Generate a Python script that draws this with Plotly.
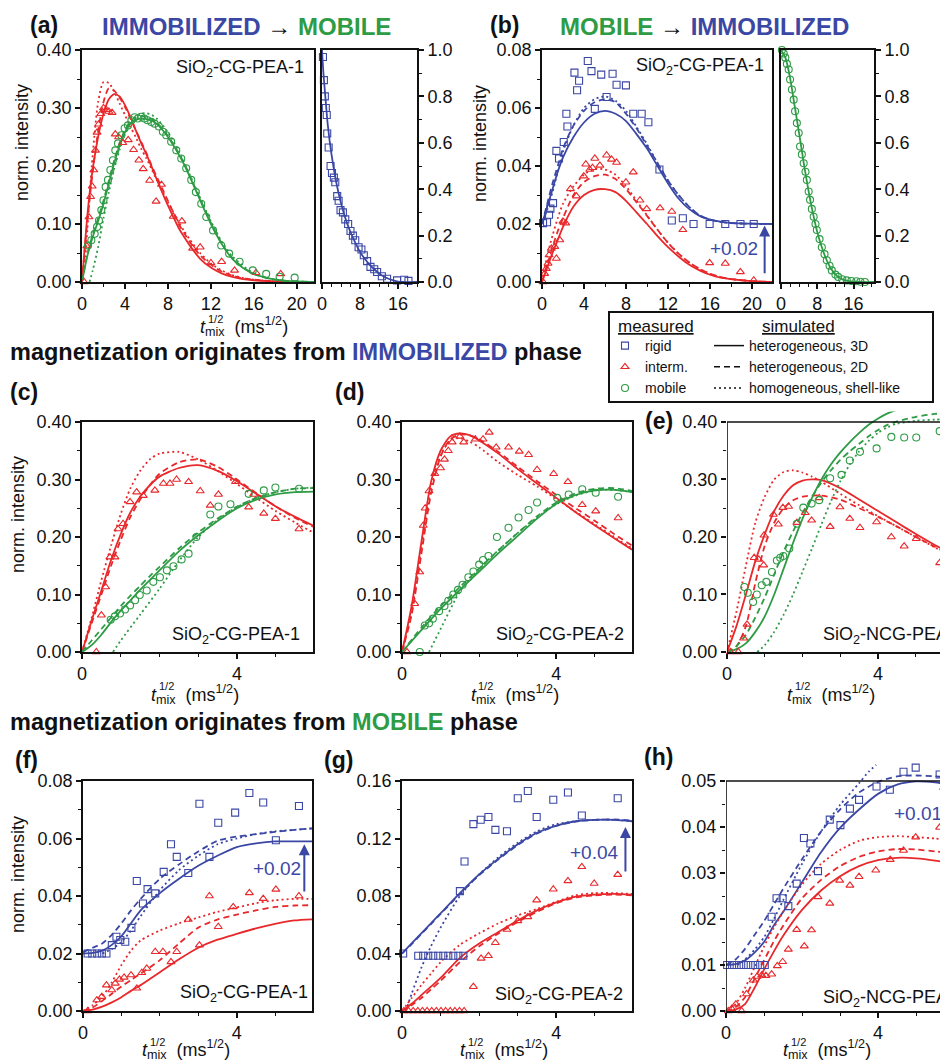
import plotly.graph_objects as go

W, H = 948, 1062
OX, OY = 8, 8  # the page body adds an 8 px margin; positions below are in screen pixels
FONT = "Liberation Sans, Arial, Helvetica, sans-serif"
BLUE = "#3b47a5"
RED = "#e8282b"
GREEN = "#2e9b45"
BLACK = "#111111"

# ---------------- panel (a) : IMMOBILIZED -> MOBILE ----------------
a_int_x = [0.2, 0.45, 0.65, 0.8, 0.95, 1.1, 1.25, 1.4, 1.55, 1.75, 2.0, 2.25, 2.5, 2.8, 3.1, 3.4, 3.8,
           4.3, 4.8, 5.3, 5.7, 6.3, 6.9, 7.4, 8.5, 9.3, 10.3, 11.0, 12.0, 13.0, 14.2, 16.2, 18.5]
a_int_y = [0.0, 0.062, 0.112, 0.147, 0.165, 0.193, 0.227, 0.258, 0.272, 0.29, 0.3, 0.297, 0.294, 0.292,
           0.255, 0.25, 0.24, 0.245, 0.228, 0.21, 0.195, 0.175, 0.139, 0.168, 0.113, 0.105, 0.058, 0.06,
           0.033, 0.035, 0.02, 0.016, 0.014]
a_mob_x = [0.56, 0.87, 1.18, 1.4, 1.58, 1.8, 2.0, 2.2, 2.42, 2.64, 2.88, 3.1, 3.35, 3.66, 3.97, 4.28, 4.6,
           4.9, 5.2, 5.5, 5.8, 6.1, 6.45, 6.76, 7.16, 7.53, 7.84, 8.3, 8.78, 9.24, 9.7, 10.17, 10.6, 11.1,
           11.57, 12.2, 12.96, 13.7, 14.67, 15.9, 17.15, 18.4, 19.8]
a_mob_y = [0.063, 0.072, 0.083, 0.095, 0.106, 0.124, 0.141, 0.164, 0.176, 0.193, 0.21, 0.227, 0.239, 0.253,
           0.265, 0.27, 0.279, 0.284, 0.282, 0.285, 0.282, 0.279, 0.276, 0.273, 0.268, 0.259, 0.253, 0.242,
           0.227, 0.213, 0.196, 0.176, 0.155, 0.135, 0.112, 0.089, 0.063, 0.049, 0.035, 0.02, 0.014, 0.009,
           0.0075]
a_red_x = [0, 0.25, 0.5, 0.75, 1, 1.5, 2, 2.5, 3, 3.5, 4, 4.5, 5, 5.5, 6, 6.5, 7, 7.5, 8, 8.5, 9, 9.5, 10,
           11, 12, 13, 14, 15, 16, 18, 21.6]
a_red_solid = [0, 0.06, 0.115, 0.16, 0.195, 0.25, 0.29, 0.315, 0.324, 0.32, 0.305, 0.285, 0.262, 0.24, 0.22,
               0.198, 0.175, 0.153, 0.132, 0.112, 0.093, 0.078, 0.064, 0.04, 0.025, 0.015, 0.009, 0.005,
               0.003, 0.001, 0]
a_red_dash = [0, 0.055, 0.105, 0.15, 0.19, 0.26, 0.31, 0.334, 0.33, 0.318, 0.302, 0.282, 0.262, 0.242, 0.222,
              0.2, 0.18, 0.16, 0.14, 0.12, 0.1, 0.085, 0.07, 0.046, 0.03, 0.018, 0.011, 0.006, 0.004, 0.001, 0]
a_red_dot = [0, 0.03, 0.09, 0.16, 0.22, 0.31, 0.345, 0.343, 0.328, 0.308, 0.288, 0.268, 0.25, 0.23, 0.213,
             0.194, 0.175, 0.156, 0.138, 0.12, 0.103, 0.088, 0.074, 0.05, 0.032, 0.02, 0.012, 0.007, 0.004,
             0.001, 0]
a_grn_x = [0, 0.5, 1, 1.5, 2, 2.5, 3, 3.5, 4, 4.5, 5, 5.5, 6, 6.5, 7, 7.5, 8, 8.5, 9, 9.5, 10, 10.5, 11,
           11.5, 12, 13, 14, 15, 16, 17, 18, 19, 20, 21.6]
a_grn_solid = [0, 0.045, 0.078, 0.105, 0.135, 0.17, 0.205, 0.235, 0.258, 0.273, 0.28, 0.282, 0.281, 0.278,
               0.272, 0.262, 0.25, 0.236, 0.22, 0.203, 0.183, 0.162, 0.141, 0.12, 0.1, 0.066, 0.04, 0.024,
               0.014, 0.008, 0.004, 0.002, 0.001, 0.0]
a_grn_dash = [0, 0.048, 0.082, 0.11, 0.14, 0.175, 0.21, 0.24, 0.262, 0.277, 0.284, 0.286, 0.285, 0.281,
              0.274, 0.264, 0.252, 0.238, 0.222, 0.205, 0.185, 0.164, 0.143, 0.122, 0.102, 0.067, 0.041,
              0.025, 0.014, 0.008, 0.004, 0.002, 0.001, 0.0]
a_gdot_x = [0.7, 1, 1.5, 2, 2.5, 3, 3.5, 4, 4.5, 5, 5.5, 6, 6.5, 7, 8, 9, 10, 11, 12, 13, 14, 16, 18, 21.6]
a_gdot_y = [0, 0.02, 0.06, 0.11, 0.155, 0.195, 0.228, 0.255, 0.272, 0.283, 0.29, 0.291, 0.288, 0.281, 0.258,
            0.226, 0.186, 0.145, 0.105, 0.07, 0.044, 0.015, 0.004, 0.0]
# inset (a): rigid decay
ai_x = [0.2, 0.4, 0.6, 0.8, 1.0, 1.1, 1.4, 1.8, 2.1, 2.5, 2.8, 3.2, 3.5, 3.9, 4.4, 4.9, 5.5, 6.0, 6.5, 7.0,
        7.7, 8.3, 8.8, 9.5, 10.2, 11.0, 11.6, 12.6, 13.7, 15.8, 17.3, 18.2]
ai_y = [0.97, 0.87, 0.8, 0.75, 0.72, 0.64, 0.58, 0.5, 0.47, 0.45, 0.43, 0.37, 0.35, 0.31, 0.3, 0.27, 0.25,
        0.22, 0.2, 0.18, 0.15, 0.14, 0.115, 0.09, 0.065, 0.055, 0.043, 0.025, 0.014, 0.007, 0.01, 0.005]
ai_curve_x = [0, 0.3, 0.7, 1.2, 2, 3, 4, 5, 6, 7, 8, 9, 10, 11, 12, 13, 14, 15, 16, 17, 20]
ai_curve_y = [1.0, 0.9, 0.8, 0.68, 0.55, 0.43, 0.34, 0.27, 0.215, 0.17, 0.13, 0.1, 0.075, 0.055, 0.037,
              0.024, 0.014, 0.007, 0.002, 0, 0]

# ---------------- panel (b) : MOBILE -> IMMOBILIZED ----------------
b_rig_x = [0.1, 0.48, 0.67, 0.8, 1.05, 1.37, 1.62, 2.07, 2.32, 2.42, 3.09, 3.34, 3.53, 4.36, 4.71, 5.03,
           5.64, 6.15, 6.72, 7.1, 7.99, 8.69, 9.49, 10.13, 11.18, 12.36, 13.41, 14.43, 15.96, 17.45, 18.9,
           20.16]
b_rig_y = [0.0203, 0.0206, 0.0232, 0.0253, 0.0272, 0.0452, 0.0426, 0.0483, 0.058, 0.0536, 0.0722, 0.0661,
           0.0694, 0.0762, 0.0727, 0.0597, 0.0715, 0.0638, 0.0718, 0.068, 0.0678, 0.058, 0.058, 0.0551,
           0.0388, 0.0212, 0.022, 0.02, 0.02, 0.02, 0.02, 0.02]
b_int_x = [0.1, 0.25, 0.41, 0.57, 0.67, 0.89, 1.21, 1.37, 1.69, 2.0, 2.26, 2.71, 3.28, 3.98, 4.17, 4.55,
           4.81, 5.03, 5.51, 6.15, 6.62, 7.1, 7.99, 8.69, 9.33, 9.97, 11.24, 12.36, 13.41, 15.96, 17.45,
           18.89, 20.16]
b_int_y = [0.0, 0.0029, 0.0046, 0.0064, 0.0093, 0.0116, 0.0122, 0.0081, 0.0145, 0.0209, 0.0203, 0.0321,
           0.0296, 0.0365, 0.0406, 0.0388, 0.0394, 0.0426, 0.0402, 0.0437, 0.0423, 0.0412, 0.0344, 0.0379,
           0.0282, 0.0252, 0.0255, 0.0243, 0.018, 0.0066, 0.0064, 0.0035, 0.0006]
b_x = [0, 0.5, 1, 1.5, 2, 3, 4, 5, 6, 7, 8, 9, 10, 11, 12, 13, 14, 15, 16, 17, 18, 20, 21.9]
b_blue_solid = [0.02, 0.026, 0.032, 0.038, 0.043, 0.05, 0.055, 0.058, 0.059, 0.058, 0.0555, 0.051, 0.046,
                0.04, 0.034, 0.0288, 0.0252, 0.0228, 0.0215, 0.0208, 0.0204, 0.0201, 0.02]
b_blue_dash = [0.02, 0.027, 0.034, 0.04, 0.046, 0.054, 0.059, 0.062, 0.063, 0.062, 0.058, 0.053, 0.047,
               0.041, 0.035, 0.03, 0.026, 0.023, 0.0215, 0.0207, 0.0203, 0.0201, 0.02]
b_blue_dot = [0.02, 0.025, 0.031, 0.038, 0.045, 0.054, 0.06, 0.063, 0.064, 0.0625, 0.059, 0.0535, 0.0475,
              0.041, 0.035, 0.03, 0.026, 0.023, 0.0215, 0.0207, 0.0203, 0.0201, 0.02]
b_red_solid = [0, 0.005, 0.01, 0.0145, 0.019, 0.026, 0.03, 0.0318, 0.032, 0.031, 0.028, 0.024, 0.02, 0.0158,
               0.012, 0.0088, 0.006, 0.004, 0.0025, 0.0015, 0.001, 0.0003, 0]
b_red_dash = [0, 0.006, 0.012, 0.0175, 0.022, 0.03, 0.0345, 0.0365, 0.037, 0.0355, 0.032, 0.0275, 0.0228,
              0.018, 0.0135, 0.0098, 0.0068, 0.0045, 0.0028, 0.0017, 0.001, 0.0003, 0]
b_red_dot = [0, 0.009, 0.016, 0.022, 0.027, 0.033, 0.037, 0.039, 0.0388, 0.037, 0.033, 0.028, 0.023, 0.018,
             0.0135, 0.0098, 0.0068, 0.0045, 0.0028, 0.0017, 0.001, 0.0003, 0]
# inset (b): mobile decay
bi_x = [0.2, 0.6, 0.95, 1.3, 1.7, 2.0, 2.4, 2.8, 3.1, 3.5, 3.9, 4.2, 4.6, 5.0, 5.4, 5.7, 6.1, 6.4, 6.8, 7.2,
        7.6, 7.9, 8.5, 9.0, 9.6, 10.1, 10.7, 11.2, 12.0, 12.6, 13.5, 14.5, 15.5, 16.6, 17.5, 18.5]
bi_y = [1.0, 0.985, 0.967, 0.94, 0.916, 0.873, 0.83, 0.786, 0.736, 0.685, 0.642, 0.584, 0.55, 0.512, 0.475,
        0.44, 0.39, 0.354, 0.315, 0.281, 0.25, 0.224, 0.185, 0.15, 0.12, 0.094, 0.07, 0.05, 0.032, 0.022,
        0.012, 0.007, 0.004, 0.003, 0.001, 0.0]
bi_curve_x = [0, 1, 2, 3, 4, 5, 6, 7, 8, 9, 10, 11, 12, 13, 14, 15, 16, 17, 18, 20.5]
bi_curve_y = [1.0, 0.965, 0.88, 0.76, 0.64, 0.515, 0.4, 0.3, 0.215, 0.15, 0.097, 0.058, 0.032, 0.017, 0.008,
              0.004, 0.002, 0.001, 0, 0]

# ---------------- panel (c) ----------------
c_x = [0, 0.25, 0.5, 0.75, 1, 1.25, 1.5, 1.75, 2, 2.5, 3, 3.5, 4, 4.5, 5, 5.5, 5.96]
c_red_solid = [0, 0.055, 0.107, 0.16, 0.205, 0.243, 0.27, 0.29, 0.305, 0.32, 0.325, 0.315, 0.297, 0.275,
               0.253, 0.235, 0.22]
c_red_dash = [0, 0.05, 0.1, 0.15, 0.195, 0.235, 0.265, 0.29, 0.31, 0.33, 0.335, 0.322, 0.3, 0.276, 0.253,
              0.233, 0.218]
c_red_dot = [0, 0.06, 0.125, 0.185, 0.24, 0.285, 0.315, 0.335, 0.345, 0.348, 0.335, 0.315, 0.292, 0.268,
             0.245, 0.225, 0.208]
c_grn_solid = [0, 0.012, 0.03, 0.052, 0.072, 0.09, 0.108, 0.125, 0.142, 0.175, 0.203, 0.228, 0.25, 0.265,
               0.274, 0.278, 0.279]
c_grn_dash = [0, 0.02, 0.04, 0.06, 0.08, 0.098, 0.115, 0.132, 0.148, 0.18, 0.208, 0.232, 0.253, 0.268, 0.278,
              0.284, 0.285]
c_gdot_x = [0.8, 1, 1.5, 2, 2.5, 3, 3.5, 4, 4.5, 5, 5.5, 5.96]
c_gdot_y = [0, 0.02, 0.065, 0.11, 0.158, 0.2, 0.23, 0.252, 0.268, 0.278, 0.284, 0.286]
c_int_x = [0.37, 0.5, 0.61, 0.72, 0.85, 0.93, 1.06, 1.24, 1.41, 1.58, 1.88, 2.1, 2.27, 2.44, 2.75, 3.05,
           3.31, 3.52, 3.96, 4.3, 4.43, 4.69, 4.99, 5.6]
c_int_y = [0.0, 0.064, 0.113, 0.165, 0.165, 0.214, 0.223, 0.261, 0.278, 0.272, 0.281, 0.293, 0.293, 0.3,
           0.296, 0.28, 0.255, 0.274, 0.296, 0.252, 0.274, 0.241, 0.232, 0.214]
c_mob_x = [0.74, 0.85, 0.98, 1.11, 1.24, 1.37, 1.49, 1.67, 1.84, 2.01, 2.19, 2.36, 2.57, 2.75, 2.95, 3.31,
           3.52, 3.83, 4.3, 4.69, 4.99, 5.6]
c_mob_y = [0.056, 0.062, 0.067, 0.074, 0.081, 0.09, 0.099, 0.107, 0.122, 0.13, 0.142, 0.149, 0.161, 0.171,
           0.2, 0.239, 0.253, 0.257, 0.275, 0.281, 0.286, 0.284]

# ---------------- panel (d) ----------------
d_x = [0, 0.25, 0.5, 0.75, 1, 1.25, 1.5, 1.75, 2, 2.5, 3, 3.5, 4, 4.5, 5, 5.5, 5.96]
d_red_solid = [0, 0.08, 0.19, 0.295, 0.35, 0.375, 0.38, 0.377, 0.368, 0.345, 0.318, 0.293, 0.268, 0.243,
               0.22, 0.198, 0.178]
d_red_dash = [0, 0.065, 0.17, 0.275, 0.34, 0.37, 0.378, 0.377, 0.37, 0.348, 0.322, 0.297, 0.273, 0.25, 0.228,
              0.205, 0.185]
d_red_dot = [0, 0.07, 0.18, 0.285, 0.342, 0.368, 0.372, 0.366, 0.356, 0.33, 0.308, 0.288, 0.266, 0.244,
             0.222, 0.2, 0.18]
d_gx = [0, 0.5, 1, 1.5, 2, 2.5, 3, 3.5, 4, 4.5, 5, 5.5, 5.96]
d_grn_solid = [0, 0.038, 0.075, 0.108, 0.14, 0.172, 0.202, 0.232, 0.258, 0.273, 0.281, 0.282, 0.278]
d_grn_dash = [0, 0.042, 0.08, 0.113, 0.145, 0.177, 0.207, 0.236, 0.26, 0.276, 0.284, 0.285, 0.28]
d_gdot_x = [0.7, 1, 1.5, 2, 2.5, 3, 3.5, 4, 4.5, 5, 5.5, 5.96]
d_gdot_y = [0, 0.04, 0.105, 0.145, 0.177, 0.207, 0.234, 0.257, 0.272, 0.281, 0.282, 0.278]
d_int_x = [0.13, 0.33, 0.46, 0.55, 0.6, 0.7, 0.85, 1.0, 1.1, 1.2, 1.3, 1.5, 1.6, 1.9, 2.1, 2.26, 2.44, 2.76,
           3.04, 3.28, 3.5, 3.93, 4.3, 4.67, 5.02, 5.6]
d_int_y = [0.0, 0.084, 0.139, 0.22, 0.25, 0.28, 0.31, 0.32, 0.335, 0.35, 0.365, 0.375, 0.365, 0.37, 0.37,
           0.382, 0.356, 0.356, 0.349, 0.343, 0.317, 0.31, 0.296, 0.256, 0.245, 0.233]
d_mob_x = [0.46, 0.59, 0.7, 0.8, 0.96, 1.1, 1.2, 1.33, 1.45, 1.57, 1.72, 1.85, 2.0, 2.1, 2.24, 2.46, 2.76,
           3.02, 3.28, 3.5, 4.02, 4.32, 4.67, 5.02, 5.6]
d_mob_y = [0.0, 0.046, 0.05, 0.058, 0.071, 0.08, 0.089, 0.1, 0.108, 0.117, 0.13, 0.14, 0.152, 0.16, 0.167,
           0.2, 0.216, 0.234, 0.247, 0.26, 0.268, 0.274, 0.283, 0.277, 0.27]

# ---------------- panel (e) ----------------
e_x = [0, 0.25, 0.5, 0.75, 1, 1.25, 1.5, 1.75, 2, 2.25, 2.5, 3, 3.5, 4, 4.5, 5, 5.5, 5.85]
e_red_solid = [0, 0.045, 0.1, 0.158, 0.205, 0.245, 0.272, 0.29, 0.298, 0.3, 0.299, 0.285, 0.265, 0.245,
               0.225, 0.205, 0.186, 0.174]
e_red_dash = [0, 0.01, 0.045, 0.12, 0.185, 0.225, 0.25, 0.264, 0.27, 0.272, 0.272, 0.265, 0.25, 0.235,
              0.218, 0.2, 0.183, 0.171]
e_red_dot = [0, 0.07, 0.15, 0.225, 0.27, 0.3, 0.313, 0.316, 0.312, 0.305, 0.296, 0.275, 0.255, 0.236, 0.218,
             0.2, 0.182, 0.17]
e_gx = [0, 0.25, 0.5, 0.75, 1, 1.25, 1.5, 1.75, 2, 2.25, 2.5, 2.75, 3, 3.25, 3.5, 3.75, 4, 4.25, 4.5, 5,
        5.5, 5.85]
e_grn_solid = [0, 0.005, 0.015, 0.035, 0.062, 0.1, 0.145, 0.19, 0.232, 0.268, 0.3, 0.326, 0.347, 0.365,
               0.381, 0.395, 0.406, 0.415, 0.421, 0.428, 0.431, 0.432]
e_grn_dash = [0, 0.01, 0.03, 0.06, 0.095, 0.135, 0.175, 0.21, 0.242, 0.27, 0.295, 0.316, 0.334, 0.349, 0.362,
              0.375, 0.386, 0.395, 0.401, 0.409, 0.414, 0.415]
e_gdot_x = [0.8, 1, 1.25, 1.5, 1.75, 2, 2.25, 2.5, 2.75, 3, 3.25, 3.5, 3.75, 4, 4.25, 4.5, 5, 5.5, 5.85]
e_gdot_y = [0, 0.012, 0.035, 0.065, 0.1, 0.14, 0.18, 0.222, 0.262, 0.297, 0.326, 0.349, 0.367, 0.381, 0.391,
            0.397, 0.402, 0.404, 0.405]
e_int_x = [0.09, 0.3, 0.44, 0.53, 0.72, 0.84, 0.97, 0.98, 1.23, 1.36, 1.48, 1.63, 1.85, 2.07, 2.24, 2.44,
           2.73, 2.99, 3.25, 3.52, 3.96, 4.35, 4.69, 5.01, 5.63]
e_int_y = [0.0, 0.0, 0.024, 0.048, 0.164, 0.161, 0.151, 0.203, 0.239, 0.222, 0.251, 0.253, 0.225, 0.242,
           0.229, 0.268, 0.218, 0.252, 0.232, 0.216, 0.226, 0.2, 0.184, 0.197, 0.155]
e_mob_x = [0.46, 0.55, 0.69, 0.79, 0.92, 1.04, 1.19, 1.32, 1.41, 1.49, 1.65, 1.85, 2.02, 2.24, 2.44, 2.73,
           3.03, 3.25, 3.52, 3.96, 4.35, 4.69, 5.01, 5.63]
e_mob_y = [0.113, 0.103, 0.087, 0.1, 0.116, 0.122, 0.139, 0.159, 0.164, 0.167, 0.18, 0.223, 0.251, 0.258,
           0.264, 0.302, 0.308, 0.333, 0.348, 0.354, 0.374, 0.373, 0.373, 0.384]

# ---------------- panel (f) ----------------
f_x = [0, 0.25, 0.5, 0.75, 1, 1.25, 1.5, 2, 2.5, 3, 3.5, 4, 4.5, 5, 5.5, 5.96]
f_blue_solid = [0.02, 0.0202, 0.021, 0.023, 0.026, 0.0305, 0.035, 0.041, 0.046, 0.0505, 0.054, 0.057,
                0.0583, 0.059, 0.059, 0.059]
f_blue_dash = [0.0205, 0.022, 0.0235, 0.0265, 0.0305, 0.035, 0.039, 0.046, 0.051, 0.0555, 0.0592, 0.0607,
               0.0615, 0.0623, 0.063, 0.0635]
f_bdot_x = [0.5, 0.75, 1, 1.25, 1.5, 2, 2.5, 3, 3.5, 4, 4.5, 5, 5.5, 5.96]
f_bdot_y = [0.02, 0.0215, 0.024, 0.028, 0.033, 0.042, 0.049, 0.054, 0.058, 0.06, 0.0615, 0.0625, 0.063,
            0.0635]
f_red_solid = [0, 0.0005, 0.0015, 0.003, 0.0048, 0.007, 0.009, 0.0135, 0.018, 0.022, 0.0248, 0.0268, 0.0287,
               0.0303, 0.0315, 0.0319]
f_red_dash = [0, 0.0012, 0.0035, 0.006, 0.0085, 0.0108, 0.013, 0.0177, 0.0235, 0.029, 0.0318, 0.0335, 0.035,
              0.0362, 0.0367, 0.0368]
f_red_dot = [0, 0.002, 0.005, 0.01, 0.016, 0.021, 0.0245, 0.028, 0.0305, 0.0325, 0.0345, 0.036, 0.0375,
             0.0385, 0.039, 0.039]
f_rig_x = [0.12, 0.24, 0.37, 0.49, 0.61, 0.75, 0.87, 0.97, 1.1, 1.26, 1.4, 1.56, 1.68, 1.88, 2.1, 2.29, 2.44,
           2.74, 3.03, 3.29, 3.52, 3.96, 4.33, 4.69, 5.02, 5.62]
f_rig_y = [0.02, 0.02, 0.02, 0.02, 0.02, 0.0229, 0.0258, 0.0247, 0.0241, 0.0289, 0.0452, 0.0374, 0.0424,
           0.0409, 0.0484, 0.058, 0.0536, 0.048, 0.0721, 0.0536, 0.0655, 0.069, 0.0758, 0.0725, 0.0594,
           0.0713]
f_int_x = [0.12, 0.36, 0.49, 0.61, 0.75, 0.84, 0.95, 1.07, 1.25, 1.4, 1.53, 1.66, 1.88, 2.08, 2.29, 2.44,
           2.74, 3.03, 3.29, 3.52, 3.91, 4.33, 4.69, 5.02, 5.62]
f_int_y = [0.0, 0.0038, 0.005, 0.009, 0.0073, 0.0096, 0.011, 0.0117, 0.0125, 0.0079, 0.0133, 0.0148, 0.0206,
           0.0206, 0.0171, 0.0206, 0.0318, 0.0229, 0.04, 0.0293, 0.0362, 0.0411, 0.0391, 0.0423, 0.04]

# ---------------- panel (g) ----------------
g_x = [0, 0.25, 0.5, 0.75, 1, 1.5, 2, 2.5, 3, 3.5, 4, 4.5, 5, 5.5, 5.96]
g_blue_solid = [0.04, 0.047, 0.054, 0.061, 0.068, 0.082, 0.095, 0.106, 0.116, 0.124, 0.129, 0.132, 0.133,
                0.133, 0.132]
g_blue_dash = [0.04, 0.0465, 0.0535, 0.0605, 0.0675, 0.0815, 0.0945, 0.1055, 0.1155, 0.1235, 0.1288,
               0.1318, 0.133, 0.1332, 0.1325]
g_bdot_x = [0.1, 0.25, 0.5, 0.75, 1, 1.5, 2, 2.5, 3, 3.5, 4, 4.5, 5, 5.5, 5.96]
g_bdot_y = [0.0, 0.012, 0.03, 0.045, 0.058, 0.08, 0.095, 0.107, 0.117, 0.125, 0.13, 0.132, 0.133, 0.133,
            0.132]
g_red_solid = [0, 0.005, 0.011, 0.017, 0.023, 0.037, 0.047, 0.055, 0.063, 0.07, 0.0755, 0.0795, 0.081,
               0.0815, 0.081]
g_red_dash = [0, 0.004, 0.009, 0.015, 0.021, 0.034, 0.045, 0.054, 0.062, 0.069, 0.075, 0.079, 0.0805, 0.081,
              0.0805]
g_red_dot = [0, 0.009, 0.018, 0.026, 0.034, 0.046, 0.054, 0.061, 0.0665, 0.071, 0.076, 0.0805, 0.082, 0.082,
             0.0815]
g_rig_x = [0.03, 0.42, 0.55, 0.68, 0.81, 0.94, 1.07, 1.2, 1.33, 1.46, 1.59, 1.5, 1.62, 1.85, 2.04, 2.24,
           2.42, 2.72, 3.0, 3.26, 3.49, 3.92, 4.3, 4.66, 4.98, 5.59]
g_rig_y = [0.04, 0.0384, 0.0384, 0.0384, 0.0384, 0.0384, 0.0384, 0.0384, 0.0384, 0.0384, 0.0384, 0.0834,
           0.104, 0.13, 0.133, 0.135, 0.126, 0.125, 0.148, 0.153, 0.135, 0.147, 0.152, 0.136, 0.166, 0.148]
g_int_x = [0.05, 0.17, 0.29, 0.41, 0.53, 0.65, 0.77, 0.89, 1.01, 1.13, 1.25, 1.37, 1.49, 1.61, 1.85, 2.05,
           2.24, 2.42, 2.72, 3.0, 3.26, 3.49, 3.92, 4.3, 4.66, 4.98, 5.59]
g_int_y = [0.0, 0.0, 0.0, 0.0, 0.0, 0.0, 0.0, 0.0, 0.0, 0.0, 0.0, 0.0, 0.0, 0.0, 0.0169, 0.0366, 0.0384,
           0.0475, 0.0567, 0.0627, 0.0655, 0.0771, 0.0847, 0.0905, 0.1003, 0.0887, 0.0949]

# ---------------- panel (h) ----------------
h_x = [0, 0.25, 0.5, 0.75, 1, 1.25, 1.5, 2, 2.5, 3, 3.5, 4, 4.5, 5, 5.5, 5.84]
h_blue_solid = [0.01, 0.0102, 0.011, 0.0127, 0.015, 0.0185, 0.0215, 0.028, 0.0345, 0.0398, 0.0438, 0.0472,
                0.0492, 0.0499, 0.0497, 0.0493]
h_blue_dash = [0.01, 0.0112, 0.0135, 0.0165, 0.0195, 0.023, 0.0265, 0.033, 0.039, 0.0438, 0.0475, 0.0498,
               0.051, 0.0512, 0.051, 0.0508]
h_bdot_x = [0.3, 0.5, 0.75, 1, 1.25, 1.5, 2, 2.5, 3, 3.5, 3.75, 3.95]
h_bdot_y = [0.01, 0.0112, 0.0133, 0.016, 0.0198, 0.024, 0.032, 0.039, 0.0448, 0.0495, 0.052, 0.0535]
h_red_solid = [0, 0.0003, 0.0015, 0.005, 0.009, 0.0128, 0.0163, 0.022, 0.0262, 0.0293, 0.0315, 0.0328,
               0.0333, 0.0332, 0.0327, 0.0322]
h_red_dash = [0, 0.0008, 0.003, 0.007, 0.011, 0.015, 0.0185, 0.0245, 0.0285, 0.0315, 0.0335, 0.0347, 0.0352,
              0.0351, 0.0347, 0.0344]
h_red_dot = [0, 0.0015, 0.005, 0.0095, 0.014, 0.018, 0.0215, 0.0275, 0.032, 0.035, 0.037, 0.0378, 0.038,
             0.0378, 0.0375, 0.0372]
h_rig_x = [0.03, 0.16, 0.28, 0.4, 0.53, 0.65, 0.77, 0.9, 1.02, 1.2, 1.33, 1.49, 1.64, 1.86, 2.05, 2.22, 2.42,
           2.73, 3.01, 3.26, 3.5, 3.96, 4.31, 4.67, 4.99, 5.62]
h_rig_y = [0.01, 0.01, 0.01, 0.01, 0.01, 0.01, 0.01, 0.01, 0.01, 0.0205, 0.0245, 0.0245, 0.0228, 0.0277,
           0.0376, 0.0364, 0.0304, 0.0416, 0.0404, 0.044, 0.0459, 0.0488, 0.0481, 0.052, 0.0529, 0.0514]
h_int_x = [0.06, 0.15, 0.26, 0.41, 0.54, 0.72, 0.82, 0.94, 1.05, 1.2, 1.35, 1.49, 1.64, 1.86, 2.06, 2.25,
           2.42, 2.73, 2.99, 3.26, 3.5, 3.94, 4.32, 4.67, 4.99, 5.62]
h_int_y = [0, 0.0005, 0.0015, 0, 0.0037, 0.0067, 0.0075, 0.0078, 0.0077, 0.008, 0.0098, 0.0107, 0.0134,
           0.0177, 0.0141, 0.0176, 0.0248, 0.0234, 0.0284, 0.0273, 0.0292, 0.0306, 0.0329, 0.0349, 0.0378,
           0.0399]

# legend labels
measured_names = ["rigid", "interm.", "mobile"]
simulated_names = ["heterogeneous, 3D", "heterogeneous, 2D", "homogeneous, shell-like"]

# =====================================================================
fig = go.Figure()
DASH = "6px,4px"
DOT = "2px,3px"


def fx(p):  # screen pixel -> paper x
    return (p - OX) / W


def fy(p):  # screen pixel -> paper y
    return 1 - (p - OY) / H


def ids(i):
    s = "" if i == 1 else str(i)
    return "x" + s, "y" + s, "xaxis" + s, "yaxis" + s


def add_line(i, x, y, color, dash="solid", width=1.8):
    xs, ys, _, _ = ids(i)
    fig.add_trace(go.Scatter(x=x, y=y, mode="lines", xaxis=xs, yaxis=ys, showlegend=False, hoverinfo="skip",
                             line=dict(color=color, width=width, dash=dash, shape="spline", smoothing=0.7)))


def add_pts(i, x, y, symbol, color, name=None, rank=None):
    xs, ys, _, _ = ids(i)
    fig.add_trace(go.Scatter(x=x, y=y, mode="markers", xaxis=xs, yaxis=ys, cliponaxis=False,
                             name=name, showlegend=name is not None, legend="legend",
                             legendrank=rank if rank is not None else 1000,
                             marker=dict(symbol=symbol, size=7, color=color, line=dict(width=1.1, color=color))))


layout_axes = {}


def setup(i, xpx, ypx, xr, yr, xdt, xmn, ydt, ymn, yfmt, yside="left", xmirror=True, yline=True,
          ymirror=True):
    xs, ys, xk, yk = ids(i)
    common = dict(showgrid=False, zeroline=False, linecolor=BLACK, linewidth=1.6, ticks="outside", ticklen=5,
                  tickwidth=1.5, tickcolor=BLACK, fixedrange=True, automargin=False,
                  tickfont=dict(family=FONT, size=18, color=BLACK))
    layout_axes[xk] = dict(common, domain=[fx(xpx[0]), min(1.0, fx(xpx[1]))], range=xr, anchor=ys, tick0=0,
                           dtick=xdt, showline=True, mirror=xmirror,
                           minor=dict(dtick=xmn, ticks="outside", ticklen=3, tickwidth=1.2, tickcolor=BLACK))
    layout_axes[yk] = dict(common, domain=[fy(ypx[1]), fy(ypx[0])], range=yr, anchor=xs, tick0=0,
                           dtick=ydt, tickformat=yfmt, showline=yline, mirror=ymirror, side=yside,
                           minor=dict(dtick=ymn, ticks="outside", ticklen=3, tickwidth=1.2, tickcolor=BLACK))


# axes layout (screen-pixel geometry)
setup(1, (82, 314), (50, 282), [0, 21.6], [0, 0.4], 4, 2, 0.1, 0.05, ".2f")
setup(2, (322, 417), (50, 282), [0, 20], [0, 1.0], 8, 2, 0.2, 0.1, ".1f", yside="right")
setup(3, (542, 772), (50, 282), [0, 21.9], [0, 0.08], 4, 2, 0.02, 0.01, ".2f")
setup(4, (781, 874), (50, 282), [0, 20.5], [0, 1.0], 8, 2, 0.2, 0.1, ".1f", yside="right")
setup(5, (82, 313), (422, 652), [0, 5.96], [0, 0.4], 4, 1, 0.1, 0.05, ".2f")
setup(6, (402, 632), (422, 652), [0, 5.96], [0, 0.4], 4, 1, 0.1, 0.05, ".2f")
setup(7, (727, 948), (411.6, 652), [0, 5.85], [0, 0.418], 4, 1, 0.1, 0.05, ".2f", xmirror=False, yline=False)
setup(8, (83, 312), (781, 1011), [0, 5.96], [0, 0.08], 4, 1, 0.02, 0.01, ".2f")
setup(9, (402, 632), (781, 1011), [0, 5.96], [0, 0.16], 4, 1, 0.04, 0.02, ".2f")
setup(10, (726, 948), (762.6, 1011), [0, 5.84], [0, 0.054], 4, 1, 0.01, 0.005, ".2f", xmirror=False,
      yline=False)

# ---- traces ----
# (a)
add_line(1, a_red_x, a_red_dot, RED, DOT)
add_line(1, a_red_x, a_red_dash, RED, DASH)
add_line(1, a_red_x, a_red_solid, RED)
add_line(1, a_gdot_x, a_gdot_y, GREEN, DOT)
add_line(1, a_grn_x, a_grn_dash, GREEN, DASH)
add_line(1, a_grn_x, a_grn_solid, GREEN)
add_pts(1, a_int_x, a_int_y, "triangle-up-open", RED)
add_pts(1, a_mob_x, a_mob_y, "circle-open", GREEN, measured_names[2], 3)
add_line(2, ai_curve_x, ai_curve_y, BLUE)
add_pts(2, ai_x, ai_y, "square-open", BLUE)
# (b)
add_line(3, b_x, b_blue_dot, BLUE, DOT)
add_line(3, b_x, b_blue_dash, BLUE, DASH)
add_line(3, b_x, b_blue_solid, BLUE)
add_line(3, b_x, b_red_dot, RED, DOT)
add_line(3, b_x, b_red_dash, RED, DASH)
add_line(3, b_x, b_red_solid, RED)
add_pts(3, b_rig_x, b_rig_y, "square-open", BLUE, measured_names[0], 1)
add_pts(3, b_int_x, b_int_y, "triangle-up-open", RED, measured_names[1], 2)
add_line(4, bi_curve_x, bi_curve_y, GREEN)
add_pts(4, bi_x, bi_y, "circle-open", GREEN)
# (c)
add_line(5, c_x, c_red_dot, RED, DOT)
add_line(5, c_x, c_red_dash, RED, DASH)
add_line(5, c_x, c_red_solid, RED)
add_line(5, c_gdot_x, c_gdot_y, GREEN, DOT)
add_line(5, c_x, c_grn_dash, GREEN, DASH)
add_line(5, c_x, c_grn_solid, GREEN)
add_pts(5, c_int_x, c_int_y, "triangle-up-open", RED)
add_pts(5, c_mob_x, c_mob_y, "circle-open", GREEN)
# (d)
add_line(6, d_x, d_red_dot, RED, DOT)
add_line(6, d_x, d_red_dash, RED, DASH)
add_line(6, d_x, d_red_solid, RED)
add_line(6, d_gdot_x, d_gdot_y, GREEN, DOT)
add_line(6, d_gx, d_grn_dash, GREEN, DASH)
add_line(6, d_gx, d_grn_solid, GREEN)
add_pts(6, d_int_x, d_int_y, "triangle-up-open", RED)
add_pts(6, d_mob_x, d_mob_y, "circle-open", GREEN)
# (e)
add_line(7, e_x, e_red_dot, RED, DOT)
add_line(7, e_x, e_red_dash, RED, DASH)
add_line(7, e_x, e_red_solid, RED)
add_line(7, e_gdot_x, e_gdot_y, GREEN, DOT)
add_line(7, e_gx, e_grn_dash, GREEN, DASH)
add_line(7, e_gx, e_grn_solid, GREEN)
add_pts(7, e_int_x, e_int_y, "triangle-up-open", RED)
add_pts(7, e_mob_x, e_mob_y, "circle-open", GREEN)
# (f)
add_line(8, f_bdot_x, f_bdot_y, BLUE, DOT)
add_line(8, f_x, f_blue_dash, BLUE, DASH)
add_line(8, f_x, f_blue_solid, BLUE)
add_line(8, f_x, f_red_dot, RED, DOT)
add_line(8, f_x, f_red_dash, RED, DASH)
add_line(8, f_x, f_red_solid, RED)
add_pts(8, f_rig_x, f_rig_y, "square-open", BLUE)
add_pts(8, f_int_x, f_int_y, "triangle-up-open", RED)
# (g)
add_line(9, g_bdot_x, g_bdot_y, BLUE, DOT)
add_line(9, g_x, g_blue_dash, BLUE, DASH)
add_line(9, g_x, g_blue_solid, BLUE)
add_line(9, g_x, g_red_dot, RED, DOT)
add_line(9, g_x, g_red_dash, RED, DASH)
add_line(9, g_x, g_red_solid, RED)
add_pts(9, g_rig_x, g_rig_y, "square-open", BLUE)
add_pts(9, g_int_x, g_int_y, "triangle-up-open", RED)
# (h)
add_line(10, h_bdot_x, h_bdot_y, BLUE, DOT)
add_line(10, h_x, h_blue_dash, BLUE, DASH)
add_line(10, h_x, h_blue_solid, BLUE)
add_line(10, h_x, h_red_dot, RED, DOT)
add_line(10, h_x, h_red_dash, RED, DASH)
add_line(10, h_x, h_red_solid, RED)
add_pts(10, h_rig_x, h_rig_y, "square-open", BLUE)
add_pts(10, h_int_x, h_int_y, "triangle-up-open", RED)

# legend entries for the simulated line styles (no data, legend only)
for k, (nm, ds) in enumerate(zip(simulated_names, ["solid", DASH, DOT])):
    fig.add_trace(go.Scatter(x=[None], y=[None], mode="lines", name=nm, legend="legend2", legendrank=k + 1,
                             line=dict(color=BLACK, width=1.5, dash=ds), xaxis="x", yaxis="y"))

# ---- annotations ----
anns = []


def pann(px, py, text, size=18, color=BLACK, xanchor="left", yanchor="middle", angle=0):
    anns.append(dict(xref="paper", yref="paper", x=fx(px), y=fy(py), text=text, showarrow=False,
                     xanchor=xanchor, yanchor=yanchor, textangle=angle,
                     font=dict(family=FONT, size=size, color=color)))


def dann(i, x, y, text, size=18, color=BLACK, xanchor="right", yanchor="middle"):
    xs, ys, _, _ = ids(i)
    anns.append(dict(xref=xs, yref=ys, x=x, y=y, text=text, showarrow=False, xanchor=xanchor,
                     yanchor=yanchor, font=dict(family=FONT, size=size, color=color)))


def arrow(i, x, y0, y1):
    xs, ys, _, _ = ids(i)
    anns.append(dict(xref=xs, yref=ys, axref=xs, ayref=ys, x=x, y=y1, ax=x, ay=y0, text="",
                     showarrow=True, arrowhead=2, arrowsize=1.1, arrowwidth=2, arrowcolor=BLUE))


def xtitle(cx, cy, up=8):
    # t with stacked "1/2" above "mix", then (ms^1/2)
    pann(cx, cy, "<i>t</i><sub>mix</sub>\u00a0\u00a0(ms<sup>1/2</sup>)", 18, xanchor="center")
    pann(cx - 29, cy - up, "1/2", 11, xanchor="center")


SIO = "SiO<sub>2</sub>-"

# panel letters and headings
pann(28, 25, "<b>(a)</b>", 23)
pann(100, 27, f"<b><span style='color:{BLUE}'>IMMOBILIZED</span></b> → "
              f"<b><span style='color:{GREEN}'>MOBILE</span></b>", 24)
pann(488, 25, "<b>(b)</b>", 23)
pann(558, 27, f"<b><span style='color:{GREEN}'>MOBILE</span></b> → "
              f"<b><span style='color:{BLUE}'>IMMOBILIZED</span></b>", 24)
pann(8, 352, f"<b>magnetization originates from <span style='color:{BLUE}'>IMMOBILIZED</span> phase</b>", 23.5)
pann(8, 722, f"<b>magnetization originates from <span style='color:{GREEN}'>MOBILE</span> phase</b>", 23.5)
pann(8, 392, "<b>(c)</b>", 23)
pann(333, 392, "<b>(d)</b>", 23)
pann(643, 421, "<b>(e)</b>", 23)
pann(13, 760, "<b>(f)</b>", 23)
pann(322, 760, "<b>(g)</b>", 23)
pann(642, 757, "<b>(h)</b>", 23)

# y titles
pann(22, 143, "norm. intensity", 18, angle=-90, xanchor="center")
pann(480, 144, "norm. intensity", 18, angle=-90, xanchor="center")
pann(18, 515, "norm. intensity", 18, angle=-90, xanchor="center")
pann(18, 875, "norm. intensity", 18, angle=-90, xanchor="center")

# x titles
xtitle(244, 326, 7)
xtitle(195, 694)
xtitle(515, 694)
xtitle(831, 694)
xtitle(186, 1049, 7)
xtitle(504, 1049, 7)
xtitle(827, 1049, 7)

# sample labels
dann(1, 20.9, 0.368, SIO + "CG-PEA-1")
dann(3, 21.3, 0.0742, SIO + "CG-PEA-1")
dann(5, 5.68, 0.029, SIO + "CG-PEA-1")
dann(6, 5.8, 0.029, SIO + "CG-PEA-2")
dann(7, 2.5, 0.028, SIO + "NCG-PEA", xanchor="left")
dann(8, 5.9, 0.0061, SIO + "CG-PEA-1")
dann(9, 5.77, 0.0111, SIO + "CG-PEA-2")
dann(10, 2.5, 0.0028, SIO + "NCG-PEA", xanchor="left")

# offsets
dann(3, 18.25, 0.0116, "+0.02", 19, BLUE, xanchor="center")
arrow(3, 21.2, 0.0025, 0.0195)
dann(8, 5.04, 0.0495, "+0.02", 19, BLUE, xanchor="center")
arrow(8, 5.76, 0.041, 0.058)
dann(9, 4.98, 0.110, "+0.04", 19, BLUE, xanchor="center")
arrow(9, 5.79, 0.096, 0.128)
dann(10, 5.05, 0.0429, "+0.01", 19, BLUE, xanchor="center")
arrow(10, 5.75, 0.0386, 0.0505)

# legend headings
pann(616, 326, "<u>measured</u>", 17)
pann(760, 326, "<u>simulated</u>", 17)

# ---- shapes: legend box and frame lines for panels (e), (h) ----
shapes = [
    dict(type="rect", xref="paper", yref="paper", x0=fx(609), x1=fx(933), y0=fy(402), y1=fy(312),
         line=dict(color=BLACK, width=2), fillcolor="rgba(0,0,0,0)"),
    dict(type="line", xref="x7", yref="y7", x0=0, x1=5.85, y0=0.4, y1=0.4, line=dict(color=BLACK, width=1.6)),
    dict(type="line", xref="x7", yref="y7", x0=0, x1=0, y0=0, y1=0.4, line=dict(color=BLACK, width=1.6)),
    dict(type="line", xref="x10", yref="y10", x0=0, x1=5.84, y0=0.05, y1=0.05,
         line=dict(color=BLACK, width=1.6)),
    dict(type="line", xref="x10", yref="y10", x0=0, x1=0, y0=0, y1=0.05, line=dict(color=BLACK, width=1.6)),
]

legend_common = dict(xanchor="left", yanchor="middle", bgcolor="rgba(0,0,0,0)", borderwidth=0,
                     font=dict(family=FONT, size=14, color=BLACK), itemwidth=30, tracegroupgap=0,
                     itemsizing="trace", orientation="v", traceorder="normal")

fig.update_layout(
    width=W, height=H, margin=dict(l=0, r=0, t=0, b=0, pad=0, autoexpand=False),
    paper_bgcolor="white", plot_bgcolor="white",
    font=dict(family=FONT, size=18, color=BLACK),
    showlegend=True,
    legend=dict(legend_common, x=fx(605), y=fy(367)),
    legend2=dict(legend_common, x=fx(709), y=fy(367)),
    annotations=anns, shapes=shapes,
    **layout_axes,
)

fig.write_html("out.html")
